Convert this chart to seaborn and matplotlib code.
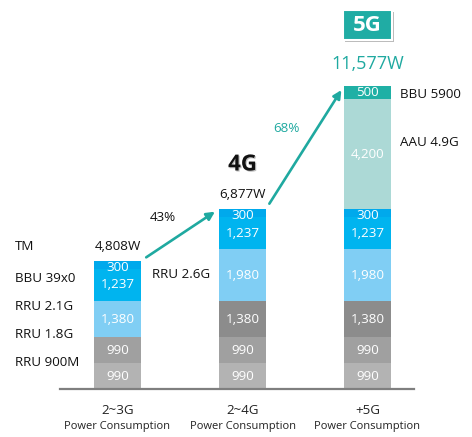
import numpy as np
import pandas as pd
import matplotlib
matplotlib.use("Agg")
import matplotlib.pyplot as plt
import matplotlib.patheffects as pe
from matplotlib.patches import Rectangle
import seaborn as sns

# ---------------- data ----------------
categories = ["2~3G", "2~4G", "+5G"]
sub_label = "Power Consumption"
seg_23g = [990, 990, 1380, 1237, 300]
seg_24g = [990, 990, 1380, 1980, 1237, 300]
seg_5g = [990, 990, 1380, 1980, 1237, 300, 4200, 500]
total_labels = ["4,808W", "6,877W", "11,577W"]
growth_labels = ["43%", "68%"]
left_labels = ["TM", "BBU 39x0", "RRU 2.1G", "RRU 1.8G", "RRU 900M"]
mid_label = "RRU 2.6G"
right_labels = ["BBU 5900", "AAU 4.9G"]

C_LG, C_MG, C_DG = "#b3b3b3", "#a0a0a0", "#8c8c8c"
C_LB, C_B, C_DB = "#80cef4", "#00b4ef", "#00a9ec"
C_TL, C_T = "#acd9d6", "#1fb0a5"
colors_23g = [C_LG, C_MG, C_LB, C_B, C_DB]
colors_24g = [C_LG, C_MG, C_DG, C_LB, C_B, C_DB]
colors_5g = [C_LG, C_MG, C_DG, C_LB, C_B, C_DB, C_TL, C_T]
TEAL = "#1fa9a0"

# ---------------- figure ----------------
sns.set_theme(style="white")
plt.rcParams["font.family"] = ["Open Sans", "DejaVu Sans"]

W, H = 472, 437
fig = plt.figure(figsize=(W / 100, H / 100), dpi=100)
base_px = 389
ax = fig.add_axes([0, (H - base_px) / H, 1, base_px / H])
ax.patch.set_alpha(0)

segs = [seg_23g, seg_24g, seg_5g]
cols = [colors_23g, colors_24g, colors_5g]
nlay = max(len(s) for s in segs)
bar_w = 0.376

# cumulative layers drawn top-down (stacked bars with seaborn)
for k in range(nlay - 1, -1, -1):
    cum, pal = [], []
    for s, c in zip(segs, cols):
        kk = min(k, len(s) - 1)
        cum.append(sum(s[: kk + 1]))
        pal.append(c[kk])
    df = pd.DataFrame({"cat": categories, "val": cum})
    sns.barplot(data=df, x="cat", y="val", hue="cat", palette=pal, legend=False,
                dodge=False, width=bar_w, saturation=1, linewidth=0, ax=ax)

px_per_w = 38.2
ax.set_ylim(0, base_px * px_per_w)
ax.set_xlim(-117.5 / 125, (W - 117.5) / 125)

# value labels inside segments
for i, s in enumerate(segs):
    bottom = 0
    for v in s:
        yc = bottom + v / 2
        if v < 400:
            yc -= 2.5 * px_per_w  # small segments: label sits slightly lower
        ax.text(i, yc, f"{v:,}", ha="center", va="center",
                color="white", fontsize=9.6)
        bottom += v

ax.set_xlabel("")
ax.set_ylabel("")
ax.set_yticks([])
for sp in ["top", "right", "left"]:
    ax.spines[sp].set_visible(False)
ax.spines["bottom"].set_color("#7f7f7f")
ax.spines["bottom"].set_linewidth(1.6)
ax.spines["bottom"].set_bounds((60 - 117.5) / 125, (414 - 117.5) / 125)
ax.set_xticks(range(len(categories)))
ax.set_xticklabels([""] * len(categories))
ax.tick_params(axis="x", length=0)

for i, c in enumerate(categories):
    ax.annotate(c, xy=(i, 0), xycoords=("data", "axes fraction"), xytext=(0, -22),
                textcoords="offset pixels", ha="center", va="center", fontsize=9.6,
                color="#222222", annotation_clip=False)
    ax.annotate(sub_label, xy=(i, 0), xycoords=("data", "axes fraction"), xytext=(0, -37),
                textcoords="offset pixels", ha="center", va="center", fontsize=8,
                color="#222222", annotation_clip=False)

totals = [sum(s) for s in segs]

# total labels
for i, (t, lab) in enumerate(zip(totals, total_labels)):
    if i < 2:
        ax.annotate(lab, xy=(i, t), xytext=(0, 14), textcoords="offset pixels",
                    ha="center", va="center", fontsize=9.6, color="#111111")
    else:
        ax.annotate(lab, xy=(i, t), xytext=(0, 22), textcoords="offset pixels",
                    ha="center", va="center", fontsize=13, color=TEAL)

# 4G label
ax.annotate("4G", xy=(1, totals[1]), xytext=(0, 44), textcoords="offset pixels",
            ha="center", va="center", fontsize=16, fontweight="bold", color="#111111",
            path_effects=[pe.withSimplePatchShadow(offset=(0.8, -0.8), shadow_rgbFace="#999999", alpha=0.6)])

# 5G box
def fx(px):
    return px / W

def fy(py):
    return 1 - py / H

rect = Rectangle((fx(343), fy(40)), fx(392) - fx(343), fy(10) - fy(40),
                 transform=fig.transFigure, facecolor="#20aca4", edgecolor="white",
                 linewidth=1.5, zorder=5)
rect.set_path_effects([pe.withSimplePatchShadow(offset=(1.2, -1.2), shadow_rgbFace="#777777", alpha=0.5)])
fig.patches.append(rect)
fig.text(fx(367.5), fy(25.5), "5G", ha="center", va="center", fontsize=16,
         fontweight="bold", color="white", zorder=6)

# arrows between bars
for i in range(2):
    ax.annotate("", xy=(i + 1 - bar_w / 2, totals[i + 1]), xytext=(i + bar_w / 2, totals[i]),
                arrowprops=dict(arrowstyle="-|>", color=TEAL, lw=1.9, mutation_scale=12,
                                shrinkA=4.5, shrinkB=3.5))

fig.text(fx(163), fy(218), growth_labels[0], ha="center", va="center", fontsize=9.6, color="#111111")
fig.text(fx(286), fy(128), growth_labels[1], ha="center", va="center", fontsize=9.6, color=TEAL)

# left labels
for lab, ypx in zip(left_labels, [247, 278, 307, 334, 362]):
    fig.text(fx(15), fy(ypx), lab, ha="left", va="center", fontsize=9.6, color="#111111")
fig.text(fx(152), fy(274), mid_label, ha="left", va="center", fontsize=9.6, color="#111111")
for lab, ypx in zip(right_labels, [94, 143]):
    fig.text(fx(400), fy(ypx), lab, ha="left", va="center", fontsize=9.6, color="#111111")

fig.savefig("out.png", dpi=100, facecolor="white")
